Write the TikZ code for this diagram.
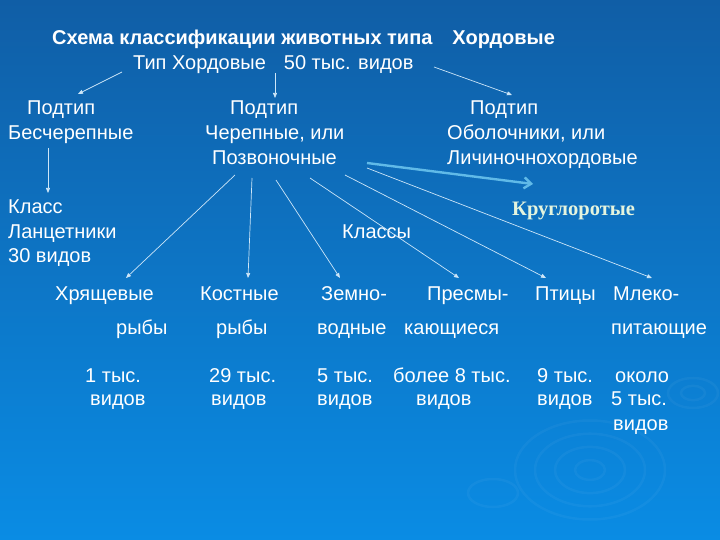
\documentclass[tikz,border=0pt]{standalone}
\usepackage{fontspec}
\setmainfont{Liberation Sans}
\newfontfamily\roundfont{Liberation Serif}
\usetikzlibrary{arrows.meta}

\definecolor{bgtop}{RGB}{16,94,166}
\definecolor{bgbot}{RGB}{10,140,228}
\definecolor{arrowc}{RGB}{205,230,248}
\definecolor{fatc}{RGB}{96,186,232}
\definecolor{roundc}{RGB}{228,244,222}

\begin{document}
\begin{tikzpicture}[x=1pt, y=-1pt,
    txt/.style={anchor=base west, inner sep=0pt, text=white,
                font=\fontsize{20}{23}\selectfont},
    head/.style={txt, font=\bfseries\fontsize{20}{23}\selectfont},
    arr/.style={-{Triangle[length=5pt, width=4pt]}, draw=arrowc, line width=0.7pt},
    fat/.style={-{Straight Barb[length=7pt, width=11pt]}, draw=fatc, line width=2.4pt},
    ripple/.style={draw=white, opacity=0.04, line width=2.5pt}]

% ---------------- background and the water rings
  \shade[top color=bgtop, bottom color=bgbot] (0,0) rectangle (720,540);
  \foreach \r in {15,35,55,75}
    \draw[ripple] (590,470) ellipse ({\r} and {0.66*\r});
  \foreach \r in {12,25}
    \draw[ripple] (693,393) ellipse ({\r} and {0.6*\r});
  \draw[ripple] (493,493) ellipse (25 and 14);

% ---------------- title and the phylum
  \node[head] (title) at (52,45) {Схема классификации животных типа\hspace{20pt}Хордовые};
  \node[txt] (typ) at (133,70) {Тип Хордовые\hspace{18pt}50 тыс. видов};

% ---------------- three subphyla
  \node[txt] (skA) at (27,115)  {Подтип};
  \node[txt] (skB) at (8,140)   {Бесчерепные};
  \node[txt] (crA) at (230,115) {Подтип};
  \node[txt] (crB) at (205,140) {Черепные, или};
  \node[txt] (crC) at (212,165) {Позвоночные};
  \node[txt] (tuA) at (470,115) {Подтип};
  \node[txt] (tuB) at (447,140) {Оболочники, или};
  \node[txt] (tuC) at (447,165) {Личиночнохордовые};

% ---------------- lancelets, the word "classes", cyclostomes
  \node[txt] (lnA) at (8,214) {Класс};
  \node[txt] (lnB) at (8,239) {Ланцетники};
  \node[txt] (lnC) at (8,262) {30 видов};
  \node[txt] (cls) at (342,239) {Классы};
  \node[txt, text=roundc, font=\roundfont\bfseries\fontsize{20.5}{23}\selectfont]
    (cyc) at (512,215) {Круглоротые};

% ---------------- the six classes: name, second line, number of species
  \node[txt] (c1a) at (55,300)  {Хрящевые};
  \node[txt] (c1b) at (116,334) {рыбы};
  \node[txt] (c1c) at (85,382)  {1 тыс.};
  \node[txt] (c1d) at (90,405)  {видов};
  \node[txt] (c2a) at (200,300) {Костные};
  \node[txt] (c2b) at (216,334) {рыбы};
  \node[txt] (c2c) at (209,382) {29 тыс.};
  \node[txt] (c2d) at (211,405) {видов};
  \node[txt] (c3a) at (321,300) {Земно-};
  \node[txt] (c3b) at (317,334) {водные};
  \node[txt] (c3c) at (317,382) {5 тыс.};
  \node[txt] (c3d) at (317,405) {видов};
  \node[txt] (c4a) at (427,300) {Пресмы-};
  \node[txt] (c4b) at (404,334) {кающиеся};
  \node[txt] (c4c) at (393,382) {более 8 тыс.};
  \node[txt] (c4d) at (416,405) {видов};
  \node[txt] (c5a) at (535,300) {Птицы};
  \node[txt] (c5c) at (537,382) {9 тыс.};
  \node[txt] (c5d) at (537,405) {видов};
  \node[txt] (c6a) at (613,300) {Млеко-};
  \node[txt] (c6b) at (611,334) {питающие};
  \node[txt] (c6c) at (615,382) {около};
  \node[txt] (c6d) at (611,405) {5 тыс.};
  \node[txt] (c6e) at (613,430) {видов};

% ---------------- free arrow ends
  \coordinate (pL) at (122,72);   \coordinate (eL) at (78,94);
  \coordinate (pM) at (275,73);   \coordinate (eM) at (275,98);
  \coordinate (pR) at (434,67);   \coordinate (eR) at (512,95);
  \coordinate (pS) at (48,148);   \coordinate (eS) at (48,193);
  \coordinate (v1) at (235,175);  \coordinate (e1) at (126,278);
  \coordinate (v2) at (252,178);  \coordinate (e2) at (248,278);
  \coordinate (v3) at (276,180);  \coordinate (e3) at (340,278);
  \coordinate (v4) at (310,178);  \coordinate (e4) at (459,278);
  \coordinate (v5) at (345,175);  \coordinate (e5) at (546,278);
  \coordinate (v6) at (367,168);  \coordinate (e6) at (652,278);
  \coordinate (vF) at (367,163);  \coordinate (eF) at (533,184);

% ---------------- arrows
  \draw[arr] (pL) -- (eL);
  \draw[arr] (pM) -- (eM);
  \draw[arr] (pR) -- (eR);
  \draw[arr] (pS) -- (eS);
  \foreach \i in {1,...,6}
    \draw[arr] (v\i) -- (e\i);
  \draw[fat] (vF) -- (eF);
\end{tikzpicture}
\end{document}
